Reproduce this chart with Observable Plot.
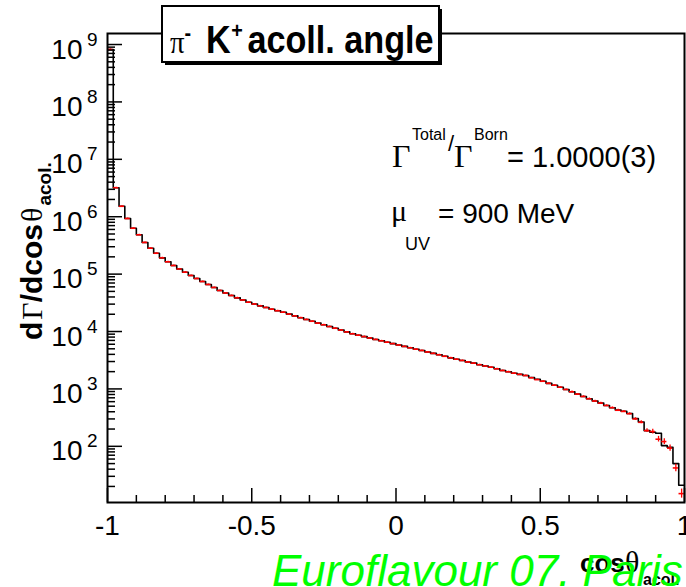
<!DOCTYPE html>
<html><head><meta charset="utf-8">
<script src="https://cdn.jsdelivr.net/npm/d3@7"></script>
<script src="https://cdn.jsdelivr.net/npm/@observablehq/plot@0.6"></script>
<style>html,body{margin:0;padding:0;background:#fff;} svg{display:block}</style>
</head><body><div id="chart"></div>
<script>
// ---- data ----
const xDomain = [-1, 1];
const yDomain = [10.5, 1.556e9];
const binWidth = 0.02;

// black histogram (Total)
const hTotal = [
  8.2e8, 3.2e6, 1.52e6, 9.3e5, 6.3e5, 4.84e5, 3.56e5, 2.83e5, 2.31e5, 1.92e5,
  1.64e5, 1.41e5, 1.23e5, 1.08e5, 9.46e4, 8.38e4, 7.43e4, 6.59e4, 5.85e4, 5.18e4,
  4.69e4, 4.24e4, 3.86e4, 3.54e4, 3.24e4, 3.01e4, 2.80e4, 2.62e4, 2.45e4, 2.30e4,
  2.17e4, 2.01e4, 1.87e4, 1.74e4, 1.62e4, 1.51e4, 1.40e4, 1.31e4, 1.22e4, 1.14e4,
  1.06e4, 9840, 9120, 8630, 8150, 7710, 7280, 6890, 6510, 6150,
  5820, 5500, 5200, 4920, 4670, 4400, 4160, 3930, 3700, 3480,
  3290, 3130, 2950, 2810, 2640, 2510, 2390, 2240, 2090, 1990,
  1880, 1790, 1710, 1580, 1470, 1360, 1250, 1160, 1070, 977,
  891, 811, 738, 673, 615, 566, 514, 471, 429, 408,
  373, 305, 265, 188, 176, 169, 103, 96, 50, 21
];
// red points
const hRed = [
  8.2e8, 3.2e6, 1.52e6, 9.3e5, 6.3e5, 4.84e5, 3.56e5, 2.83e5, 2.31e5, 1.92e5,
  1.64e5, 1.41e5, 1.23e5, 1.08e5, 9.46e4, 8.38e4, 7.43e4, 6.59e4, 5.85e4, 5.18e4,
  4.69e4, 4.24e4, 3.86e4, 3.54e4, 3.24e4, 3.01e4, 2.80e4, 2.62e4, 2.45e4, 2.30e4,
  2.17e4, 2.01e4, 1.87e4, 1.74e4, 1.62e4, 1.51e4, 1.40e4, 1.31e4, 1.22e4, 1.14e4,
  1.06e4, 9840, 9120, 8630, 8150, 7710, 7280, 6890, 6510, 6150,
  5820, 5500, 5200, 4920, 4670, 4400, 4160, 3930, 3700, 3480,
  3290, 3130, 2950, 2810, 2640, 2510, 2390, 2240, 2090, 1990,
  1880, 1790, 1710, 1560, 1450, 1360, 1250, 1160, 1070, 977,
  891, 811, 738, 673, 615, 566, 514, 471, 425, 405,
  370, 300, 262, 188, 181, 133, 121, 93, 42, 15
];
const redRelErr = [
  0.02, 0.02, 0.02, 0.02, 0.02, 0.02, 0.02, 0.02, 0.02, 0.02,
  0.02, 0.02, 0.02, 0.02, 0.02, 0.02, 0.02, 0.02, 0.02, 0.02,
  0.02, 0.02, 0.02, 0.02, 0.02, 0.02, 0.02, 0.02, 0.02, 0.02,
  0.02, 0.02, 0.02, 0.02, 0.02, 0.02, 0.02, 0.02, 0.02, 0.02,
  0.02, 0.02, 0.02, 0.02, 0.02, 0.02, 0.02, 0.02, 0.02, 0.02,
  0.02, 0.02, 0.02, 0.02, 0.02, 0.02, 0.02, 0.02, 0.02, 0.02,
  0.02, 0.02, 0.02, 0.02, 0.02, 0.02, 0.02, 0.02, 0.02, 0.02,
  0.02, 0.02, 0.02, 0.02, 0.02, 0.02, 0.02, 0.02, 0.02, 0.02,
  0.03, 0.03, 0.03, 0.03, 0.03, 0.03, 0.03, 0.03, 0.04, 0.04,
  0.04, 0.05, 0.06, 0.08, 0.10, 0.12, 0.12, 0.13, 0.16, 0.20
];

const xMajorTicks = [-1, -0.5, 0, 0.5, 1];
const xTickLabels = ["-1", "-0.5", "0", "0.5", "1"];
const xMinorTicks = [-0.9, -0.8, -0.7, -0.6, -0.4, -0.3, -0.2, -0.1, 0.1, 0.2, 0.3, 0.4, 0.6, 0.7, 0.8, 0.9];
const yMajorTicks = [1e2, 1e3, 1e4, 1e5, 1e6, 1e7, 1e8, 1e9];
const yTickExponents = ["2", "3", "4", "5", "6", "7", "8", "9"];
const yDecades = [1e1, 1e2, 1e3, 1e4, 1e5, 1e6, 1e7, 1e8];
const yMinorMultipliers = [2, 3, 4, 5, 6, 7, 8, 9];

// ---- derived tables ----
const bins = hTotal.map((v, i) => ({
  lo: xDomain[0] + i * binWidth,
  c: xDomain[0] + (i + 0.5) * binWidth,
  total: v, red: hRed[i], err: redRelErr[i]
}));
const stepPts = bins.map(b => ({x: b.lo, y: b.total}))
  .concat([{x: xDomain[1], y: hTotal[hTotal.length - 1]}]);
const yMinorTicks = yDecades.flatMap(d => yMinorMultipliers.map(m => m * d));

const W = 686, H = 587, mL = 107, mR = 2, mT = 33, mB = 85;
const frameW = W - mL - mR, frameH = H - mT - mB;
const sans = "'Liberation Sans', Arial, Helvetica, sans-serif";
const serif = "'Liberation Serif', 'Times New Roman', serif";

const plot = Plot.plot({
  width: W, height: H,
  marginLeft: mL, marginRight: mR, marginTop: mT, marginBottom: mB,
  style: {fontFamily: sans, background: "white", color: "black", overflow: "visible"},
  x: {domain: xDomain, axis: null},
  y: {type: "log", domain: yDomain, axis: null},
  marks: [
    Plot.line(stepPts, {x: "x", y: "y", curve: "step-after", stroke: "black", strokeWidth: 1.6, clip: true}),
    Plot.ruleY(bins, {y: "red", x1: d => d.c - 0.009, x2: d => d.c + 0.009, stroke: "#ff0000", strokeWidth: 1.6}),
    Plot.ruleX(bins, {x: "c", y1: d => d.red / (1 + d.err), y2: d => d.red * (1 + d.err), stroke: "#ff0000", strokeWidth: 1.3}),
    Plot.frame({stroke: "black", strokeWidth: 2}),
    Plot.tickY(yMajorTicks, {y: d => d, insetRight: frameW - 15, stroke: "black", strokeWidth: 1.5}),
    Plot.tickY(yMinorTicks, {y: d => d, insetRight: frameW - 8, stroke: "black", strokeWidth: 1.5}),
    Plot.tickX(xMajorTicks, {x: d => d, insetTop: frameH - 14, stroke: "black", strokeWidth: 1.5}),
    Plot.tickX(xMinorTicks, {x: d => d, insetTop: frameH - 7, stroke: "black", strokeWidth: 1.5}),
    Plot.text(yMajorTicks, {y: d => d, text: () => "10", frameAnchor: "left", textAnchor: "end", lineAnchor: "bottom", dx: -25, dy: 14, fontSize: 28}),
    Plot.text(yMajorTicks, {y: d => d, text: yTickExponents, frameAnchor: "left", textAnchor: "end", lineAnchor: "bottom", dx: -10, dy: 1, fontSize: 19}),
    Plot.text(xMajorTicks, {x: d => d, text: xTickLabels, frameAnchor: "bottom", lineAnchor: "bottom", dy: 32, fontSize: 28})
  ]
});
document.getElementById("chart").appendChild(plot);

// ---- annotations ----
const svg = d3.select(plot);
const ann = svg.append("g").attr("text-anchor", "start");

// title box with shadow
ann.append("rect").attr("x", 165).attr("y", 9).attr("width", 277).attr("height", 56).attr("fill", "black");
ann.append("rect").attr("x", 162).attr("y", 6).attr("width", 277).attr("height", 56)
  .attr("fill", "white").attr("stroke", "black").attr("stroke-width", 2);
const t = ann.append("text").attr("transform", "translate(170,53) scale(0.9,1)").attr("text-anchor", "start")
  .attr("font-family", sans).attr("font-weight", "bold").attr("font-size", 38).attr("fill", "black");
t.append("tspan").attr("x", 0).attr("y", 0).attr("font-family", serif).attr("font-weight", "normal").attr("font-size", 32).text("π");
t.append("tspan").attr("x", 16).attr("y", -13).attr("font-size", 22).text("-");
t.append("tspan").attr("x", 40).attr("y", 0).text("K");
t.append("tspan").attr("x", 68).attr("y", -15).attr("font-size", 22).text("+");
t.append("tspan").attr("x", 86).attr("y", 0).text("acoll. angle");

// Gamma ratio
const a1 = ann.append("text").attr("text-anchor", "start").attr("font-family", sans).attr("font-size", 29).attr("fill", "black");
a1.append("tspan").attr("x", 392).attr("y", 167).attr("font-family", serif).attr("font-size", 32).text("Γ");
a1.append("tspan").attr("x", 412).attr("y", 140).attr("font-size", 16).text("Total");
a1.append("tspan").attr("x", 448).attr("y", 151).attr("font-size", 22).text("/");
a1.append("tspan").attr("x", 454).attr("y", 167).attr("font-family", serif).attr("font-size", 32).text("Γ");
a1.append("tspan").attr("x", 474).attr("y", 140).attr("font-size", 16).text("Born");
a1.append("tspan").attr("x", 507).attr("y", 167).text("= 1.0000(3)");

// mu UV
const a2 = ann.append("text").attr("text-anchor", "start").attr("font-family", sans).attr("font-size", 28).attr("fill", "black");
a2.append("tspan").attr("x", 391).attr("y", 221).attr("font-family", serif).attr("font-size", 30).text("μ");
a2.append("tspan").attr("x", 405).attr("y", 250).attr("font-size", 18).text("UV");
a2.append("tspan").attr("x", 438).attr("y", 223).text("= 900 MeV");

// y title
const yt = ann.append("text").attr("transform", "translate(42,340) rotate(-90)").attr("text-anchor", "start")
  .attr("font-family", sans).attr("font-weight", "bold").attr("font-size", 30).attr("fill", "black");
yt.append("tspan").text("d");
yt.append("tspan").attr("font-family", serif).attr("font-weight", "normal").attr("dx", 2).text("Γ");
yt.append("tspan").text("/dcos");
yt.append("tspan").attr("font-family", serif).attr("font-weight", "normal").attr("dx", 2).text("θ");
yt.append("tspan").attr("font-size", 19).attr("dy", 9).attr("dx", 2).text("acol.");

// x title
const xt = ann.append("text").attr("text-anchor", "start").attr("font-family", sans).attr("font-weight", "bold").attr("font-size", 26).attr("fill", "black");
xt.append("tspan").attr("x", 580).attr("y", 572).text("cos");
xt.append("tspan").attr("x", 625).attr("y", 572).attr("font-family", serif).attr("font-weight", "normal").attr("font-size", 30).text("θ");
xt.append("tspan").attr("x", 643).attr("y", 585).attr("font-size", 16).text("acol.");

// conference footer
ann.append("text").attr("text-anchor", "start").attr("x", 272).attr("y", 586).attr("font-family", sans).attr("font-style", "italic")
  .attr("font-size", 44).attr("fill", "#00ff00").text("Euroflavour 07. Paris");
</script>
</body></html>
